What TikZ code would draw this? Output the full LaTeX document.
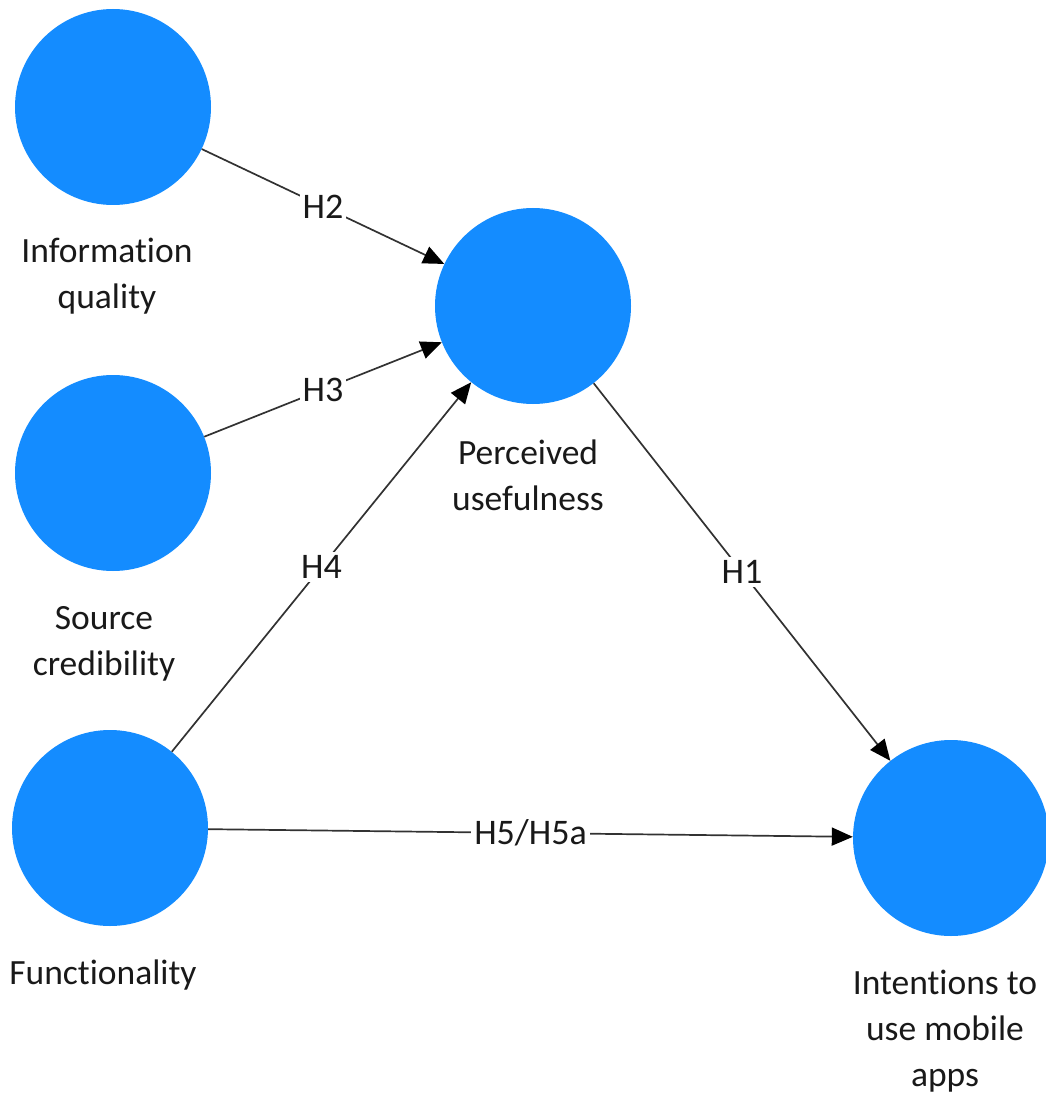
\documentclass[tikz,border=0pt]{standalone}
\usepackage{fontspec}
\setmainfont[Ligatures={NoCommon}]{Carlito}
\usetikzlibrary{arrows.meta}
\definecolor{circblue}{RGB}{20,140,255}
\definecolor{linegray}{RGB}{50,50,50}
\definecolor{txt}{RGB}{25,25,25}
\begin{document}
\begin{tikzpicture}[x=1pt,y=-1pt,
  construct/.style={circle,fill=circblue,draw=none,minimum size=196pt,inner sep=0pt},
  lbl/.style={text=txt,font=\fontsize{35.5}{46}\selectfont,align=center,inner sep=0pt},
  path/.style={draw=linegray,line width=1.7pt,-{Triangle[length=21pt,width=18pt,color=black]}},
  hyp/.style={fill=white,text=txt,font=\fontsize{36}{40}\selectfont,inner sep=3pt}]
\useasboundingbox (0,0) rectangle (1045,1099);
\node[construct] (iq) at (113,107) {};
\node[construct] (sc) at (113,473) {};
\node[construct] (fn) at (110,828) {};
\node[construct] (pu) at (533,306) {};
\node[construct] (in) at (951,838) {};
\node[lbl] (iqt) at (107,276) {Information\\quality};
\node[lbl] (sct) at (104,644) {Source\\credibility};
\node[lbl] (fnt) at (103,975) {Functionality};
\node[lbl] (put) at (528,475) {Perceived\\usefulness};
\node[lbl] (int) at (945,1031) {Intentions to\\use mobile\\apps};
\draw[path] (iq) -- node[hyp] (h2) {H2} (pu);
\draw[path] (sc) -- node[hyp] (h3) {H3} (pu);
\draw[path] (fn) -- node[hyp] (h4) {H4} (pu);
\draw[path] (pu) -- node[hyp] (h1) {H1} (in);
\draw[path] (fn) -- node[hyp] (h5) {H5/H5a} (in);
\end{tikzpicture}
\end{document}
